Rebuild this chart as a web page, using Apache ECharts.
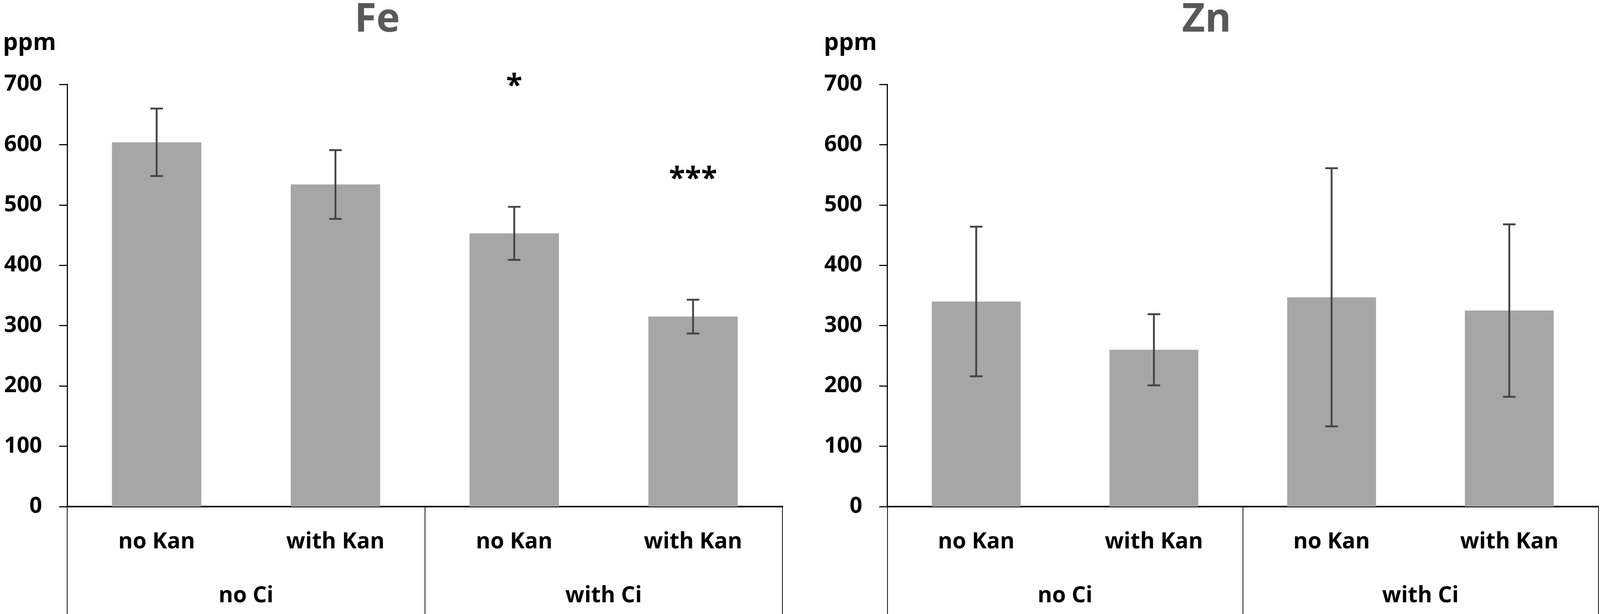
<!DOCTYPE html>
<html><head><meta charset="utf-8">
<script src="https://cdn.jsdelivr.net/npm/echarts@6/dist/echarts.min.js"></script>
<style>html,body{margin:0;padding:0;background:#fff;overflow:hidden}#c{width:100vw;height:100vh}</style>
</head><body><div id="c"></div>
<script>
const categories = ['no Kan', 'with Kan', 'no Kan', 'with Kan'];
const groups = ['no Ci', 'with Ci'];
const panelTitles = ['Fe', 'Zn'];
const yUnit = 'ppm';
const yMin = 0, yMax = 700, yStep = 100;
const feMean = [604, 534, 453, 315];
const feSd = [56, 57, 44, 28];
const znMean = [340, 260, 347, 325];
const znSd = [124, 59, 214, 143];
const feSig = ['', '', '*', '***'];
const znSig = ['', '', '', ''];

const FONT = '"Open Sans", "Liberation Sans", sans-serif';
const el = document.getElementById('c');
const W = el.clientWidth || window.innerWidth, H = el.clientHeight || window.innerHeight;
const sx = W / 4331, sy = H / 1572, s = Math.min(sx, sy);
const chart = echarts.init(el, null, {width: W, height: H});

const panels = [
  {mean: feMean, sd: feSd, sig: feSig},
  {mean: znMean, sd: znSd, sig: znSig}
];

function errRender(params, api) {
  const x = api.value(0);
  const lo = api.coord([x, api.value(1)]);
  const hi = api.coord([x, api.value(2)]);
  const hw = 17 * s;
  const style = {stroke: '#444444', lineWidth: 5 * s};
  return {type: 'group', children: [
    {type: 'line', shape: {x1: hi[0], y1: hi[1], x2: lo[0], y2: lo[1]}, style: style},
    {type: 'line', shape: {x1: hi[0] - hw, y1: hi[1], x2: hi[0] + hw, y2: hi[1]}, style: style},
    {type: 'line', shape: {x1: lo[0] - hw, y1: lo[1], x2: lo[0] + hw, y2: lo[1]}, style: style}
  ]};
}

function sigRenderFactory(sig) {
  return function (params, api) {
    const t = sig[params.dataIndex];
    if (!t) return null;
    const p = api.coord([api.value(0), api.value(1)]);
    return {type: 'text', x: p[0], y: p[1] - 308 * sy,
      style: {text: t, font: 'bold ' + (80 * s) + 'px ' + FONT, fill: '#000',
        textAlign: 'center', textVerticalAlign: 'middle', align: 'center', verticalAlign: 'middle'}};
  };
}

const grids = [
  {left: 182 * sx, right: (4331 - 2118) * sx, top: 216 * sy, bottom: (1572 - 1297) * sy, outerBoundsMode: 'none'},
  {left: 2402 * sx, right: 5 * sx, top: 216 * sy, bottom: (1572 - 1297) * sy, outerBoundsMode: 'none'}
];

const xAxes = [], yAxes = [], series = [];
panels.forEach((pn, g) => {
  xAxes.push({
    type: 'category', gridIndex: g, data: categories, position: 'bottom',
    axisLine: {show: true, onZero: false, lineStyle: {color: '#000', width: 4 * s}},
    axisTick: {show: false},
    axisLabel: {interval: 0, margin: 62 * sy, fontSize: 60 * s, fontWeight: 'bold', fontFamily: FONT, color: '#000'},
    splitLine: {show: false}
  });
  xAxes.push({
    type: 'category', gridIndex: g, data: groups, position: 'bottom',
    axisLine: {show: false},
    axisTick: {show: true, length: 280 * sy, lineStyle: {color: '#000', width: 2 * s}},
    axisLabel: {interval: 0, margin: 200 * sy, fontSize: 60 * s, fontWeight: 'bold', fontFamily: FONT, color: '#000'},
    splitLine: {show: false}
  });
  yAxes.push({
    type: 'value', gridIndex: g, min: yMin, max: yMax, interval: yStep,
    axisLine: {show: true, lineStyle: {color: '#000', width: 3 * s}},
    axisTick: {show: true, length: 22 * sx, inside: false, lineStyle: {color: '#000', width: 3 * s}},
    axisLabel: {margin: 68 * sx, fontSize: 60 * s, fontWeight: 'bold', fontFamily: FONT, color: '#000'},
    splitLine: {show: false}
  });
  series.push({
    type: 'bar', xAxisIndex: g * 2, yAxisIndex: g, data: pn.mean, barWidth: '50%',
    itemStyle: {color: '#a6a6a6'}, z: 2, silent: true
  });
  series.push({
    type: 'custom', xAxisIndex: g * 2, yAxisIndex: g, z: 4, silent: true,
    data: pn.mean.map((m, i) => [i, m - pn.sd[i], m + pn.sd[i]]),
    renderItem: errRender, encode: {x: 0, y: [1, 2]}
  });
  series.push({
    type: 'custom', xAxisIndex: g * 2, yAxisIndex: g, z: 5, silent: true, clip: false,
    data: pn.mean.map((m, i) => [i, m + pn.sd[i]]),
    renderItem: sigRenderFactory(pn.sig), encode: {x: 0, y: 1}
  });
});

const titleStyle = (t, x) => ({type: 'text', x: x * sx, y: 52 * sy,
  style: {text: t, font: 'bold ' + (108 * s) + 'px ' + FONT, fill: '#595959',
    textAlign: 'center', textVerticalAlign: 'middle', align: 'center', verticalAlign: 'middle'}});
const unitStyle = (x) => ({type: 'text', x: x * sx, y: 111 * sy,
  style: {text: yUnit, font: 'bold ' + (64 * s) + 'px ' + FONT, fill: '#000',
    textAlign: 'left', textVerticalAlign: 'middle', align: 'left', verticalAlign: 'middle'}});

chart.setOption({
  backgroundColor: '#fff',
  animation: false,
  grid: grids,
  xAxis: xAxes,
  yAxis: yAxes,
  series: series,
  graphic: [titleStyle(panelTitles[0], 1021), titleStyle(panelTitles[1], 3266), unitStyle(8), unitStyle(2230)]
});
</script>
</body></html>
